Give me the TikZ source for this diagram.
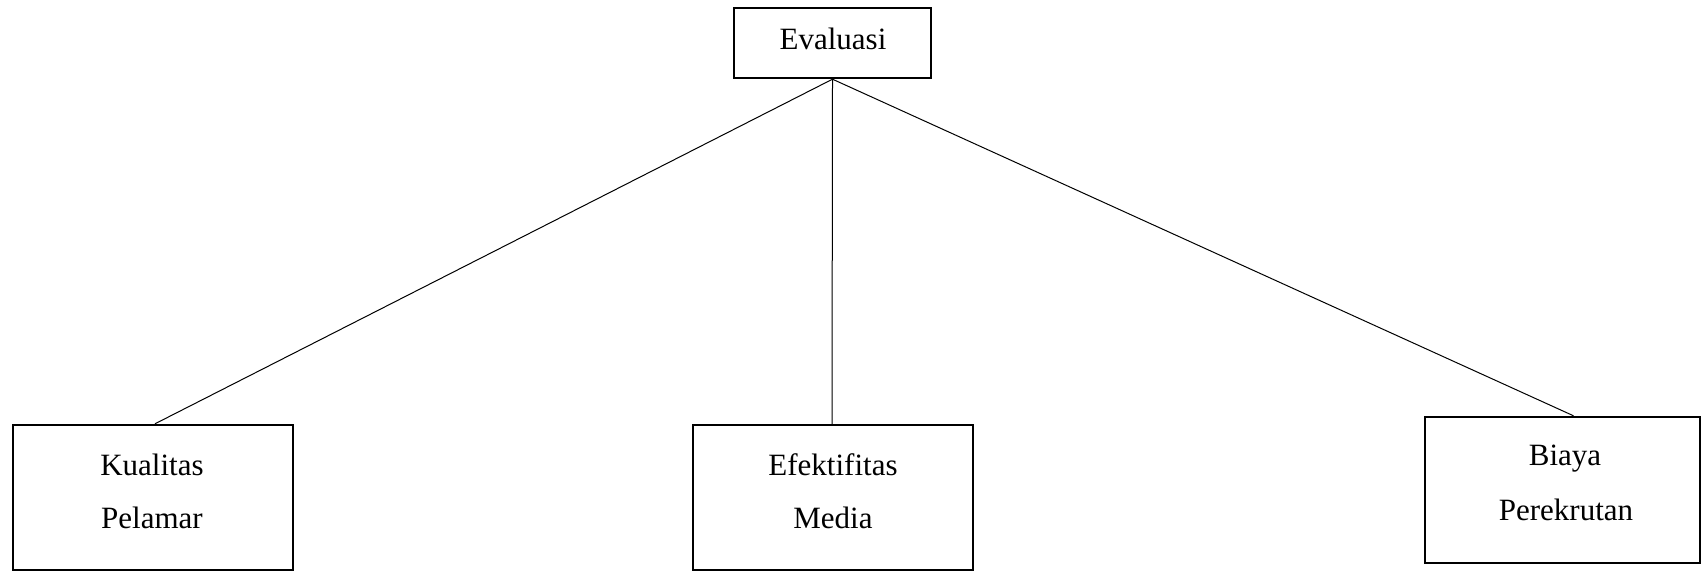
\documentclass[tikz,border=0pt]{standalone}
\usepackage{fontspec}
\setmainfont{Liberation Serif}
\begin{document}
\begin{tikzpicture}[x=0.5pt,y=-0.5pt,
  box/.style={draw=black,line width=1.2pt,rectangle,inner sep=0pt},
  lbl/.style={anchor=base,inner sep=0pt,font=\fontsize{15.5pt}{18pt}\selectfont},
  conn/.style={draw=black,line width=0.5pt}]
\useasboundingbox (0,0) rectangle (1701,571);
% boxes
\node[box,minimum width=98.5pt,minimum height=35pt] (ev) at (832.5,43) {};
\node[box,minimum width=140pt,minimum height=72.5pt] (kp) at (153,497.5) {};
\node[box,minimum width=140pt,minimum height=72.5pt] (em) at (833,497.5) {};
\node[box,minimum width=137.5pt,minimum height=73pt] (bp) at (1562.5,490) {};
% labels
\node[lbl] (evt) at (833,50) {Evaluasi};
\node[lbl] (kpt1) at (152,475) {Kualitas};
\node[lbl] (kpt2) at (152,528) {Pelamar};
\node[lbl] (emt1) at (833,475) {Efektifitas};
\node[lbl] (emt2) at (833,528) {Media};
\node[lbl] (bpt1) at (1565,465) {Biaya};
\node[lbl] (bpt2) at (1566,520) {Perekrutan};
% connectors
\coordinate (bptop) at ([xshift=5.5pt]bp.north);
\draw[conn] (ev.south) -- ([xshift=1pt]kp.north);
\draw[conn] (ev.south) -- ([xshift=-0.5pt]em.north);
\draw[conn] (ev.south) -- (bptop);
\end{tikzpicture}
\end{document}
